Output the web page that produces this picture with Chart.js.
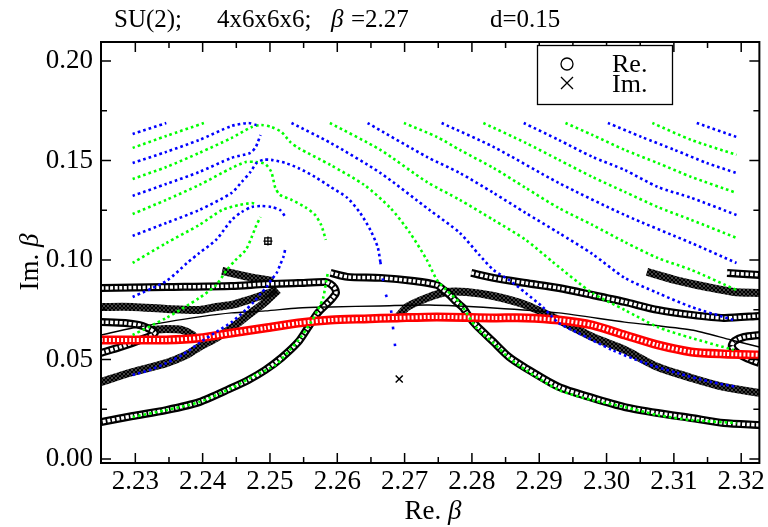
<!DOCTYPE html>
<html>
<head>
<meta charset="utf-8">
<title>SU(2) zeros</title>
<script src="https://cdn.jsdelivr.net/npm/chart.js@4.4.0/dist/chart.umd.min.js"></script>
<style>
  html, body { margin: 0; padding: 0; background: #fff; }
  #wrap { width: 768px; height: 527px; }
</style>
</head>
<body>
<div id="wrap"><canvas id="c" width="768" height="527"></canvas></div>
<script>
// axis ticks
const xTicks = [2.23, 2.24, 2.25, 2.26, 2.27, 2.28, 2.29, 2.30, 2.31, 2.32];
const xMinor = [2.235, 2.245, 2.255, 2.265, 2.275, 2.285, 2.295, 2.305, 2.315];
const yTicks = [0.00, 0.05, 0.10, 0.15, 0.20];
const yMinor = [0.025, 0.075, 0.125, 0.175];

// blue dotted curves (x = Re beta, y = Im beta)
const blue1 = [[2.2296,0.1633],[2.2346,0.1688]];
const blue2 = [[2.2296,0.1487],[2.2346,0.1543],[2.2395,0.1603],[2.2443,0.1673],[2.2468,0.1688],[2.2480,0.1678]];
const blue3 = [[2.2296,0.1322],[2.2346,0.1382],[2.2395,0.1442],[2.2443,0.1513],[2.2471,0.1538],[2.2479,0.1568],[2.2482,0.1593],[2.2486,0.1628]];
const blue4 = [[2.2296,0.1121],[2.2346,0.1186],[2.2395,0.1251],[2.2443,0.1337],[2.2458,0.1392],[2.2471,0.1442],[2.2480,0.1487],[2.2490,0.1503],[2.2502,0.1503],[2.2523,0.1487],[2.2542,0.1462],[2.2567,0.1417],[2.2590,0.1367],[2.2615,0.1312],[2.2634,0.1236],[2.2649,0.1151],[2.2660,0.1065],[2.2664,0.0990]];
const blue4tail = [[2.2664,0.0990],[2.2671,0.0839],[2.2679,0.0764],[2.2682,0.0683],[2.2686,0.0563]];
const blue5 = [[2.2296,0.0814],[2.2346,0.0894],[2.2377,0.0985],[2.2395,0.1035],[2.2420,0.1101],[2.2443,0.1201],[2.2458,0.1241],[2.2473,0.1266],[2.2487,0.1271],[2.2502,0.1266],[2.2515,0.1251],[2.2523,0.1216]];
const blue6 = [[2.2296,0.0422],[2.2321,0.0447],[2.2346,0.0482],[2.2370,0.0523],[2.2395,0.0583],[2.2420,0.0638],[2.2443,0.0688],[2.2464,0.0749],[2.2476,0.0789],[2.2487,0.0834],[2.2495,0.0864],[2.2502,0.0900],[2.2510,0.0935],[2.2515,0.0975],[2.2520,0.1015],[2.2523,0.1060]];
const blue7 = [[2.2532,0.1688],[2.2590,0.1588],[2.2664,0.1437],[2.2737,0.1251],[2.2782,0.1136],[2.2811,0.1025],[2.2832,0.0950],[2.2855,0.0900],[2.2880,0.0834],[2.2905,0.0764],[2.2929,0.0683],[2.2958,0.0633],[2.3008,0.0548],[2.3057,0.0482],[2.3105,0.0432],[2.3155,0.0387],[2.3193,0.0362]];
const blue8 = [[2.2645,0.1688],[2.2733,0.1518],[2.2782,0.1437],[2.2832,0.1337],[2.2880,0.1236],[2.2929,0.1136],[2.2979,0.1030],[2.3027,0.0910],[2.3076,0.0834],[2.3126,0.0764],[2.3189,0.0698]];
const blue9 = [[2.2755,0.1688],[2.2832,0.1568],[2.2929,0.1387],[2.3027,0.1226],[2.3126,0.1085],[2.3193,0.0985]];
const blue10 = [[2.2877,0.1688],[2.2929,0.1603],[2.2979,0.1518],[2.3027,0.1452],[2.3076,0.1367],[2.3126,0.1312],[2.3193,0.1226]];
const blue11 = [[2.3002,0.1688],[2.3052,0.1618],[2.3101,0.1553],[2.3149,0.1487],[2.3193,0.1437]];
const blue12 = [[2.3134,0.1688],[2.3193,0.1618]];

// green dotted curves
const green1 = [[2.2296,0.1563],[2.2346,0.1623],[2.2402,0.1688]];
const green2 = [[2.2296,0.1407],[2.2346,0.1467],[2.2395,0.1538],[2.2443,0.1613],[2.2473,0.1668],[2.2487,0.1678],[2.2502,0.1668],[2.2517,0.1643],[2.2530,0.1593],[2.2542,0.1563],[2.2590,0.1477],[2.2640,0.1377],[2.2679,0.1261],[2.2708,0.1136],[2.2733,0.1000],[2.2748,0.0900],[2.2762,0.0849],[2.2782,0.0784],[2.2806,0.0663],[2.2832,0.0583],[2.2855,0.0508],[2.2880,0.0447],[2.2929,0.0347],[2.2979,0.0296],[2.3027,0.0261],[2.3076,0.0221],[2.3126,0.0196],[2.3193,0.0181]];
const green3 = [[2.2296,0.1231],[2.2346,0.1302],[2.2395,0.1377],[2.2443,0.1462],[2.2464,0.1492],[2.2479,0.1492],[2.2493,0.1482],[2.2502,0.1442],[2.2508,0.1362],[2.2515,0.1327],[2.2532,0.1302],[2.2552,0.1266],[2.2567,0.1226],[2.2576,0.1176],[2.2583,0.1101]];
const green4 = [[2.2296,0.0985],[2.2346,0.1085],[2.2395,0.1176],[2.2429,0.1251],[2.2454,0.1276],[2.2473,0.1286],[2.2480,0.1281]];
const green5 = [[2.2296,0.0623],[2.2346,0.0709],[2.2395,0.0809],[2.2420,0.0874],[2.2436,0.0950],[2.2449,0.1000],[2.2464,0.1050],[2.2473,0.1116],[2.2480,0.1176],[2.2486,0.1216]];
const green6 = [[2.2296,0.0211],[2.2346,0.0246],[2.2395,0.0286],[2.2443,0.0357],[2.2479,0.0422],[2.2508,0.0472],[2.2527,0.0538],[2.2546,0.0613],[2.2561,0.0688],[2.2571,0.0749],[2.2579,0.0809],[2.2583,0.0884],[2.2586,0.0935]];
const green7 = [[2.2589,0.1688],[2.2664,0.1553],[2.2733,0.1392],[2.2782,0.1302],[2.2832,0.1201],[2.2880,0.1101],[2.2920,0.0990],[2.2979,0.0834],[2.3027,0.0749],[2.3076,0.0663],[2.3126,0.0608],[2.3189,0.0548]];
const green8 = [[2.2699,0.1688],[2.2748,0.1618],[2.2782,0.1553],[2.2832,0.1462],[2.2880,0.1362],[2.2929,0.1261],[2.2979,0.1176],[2.3027,0.1090],[2.3076,0.1010],[2.3126,0.0950],[2.3193,0.0849]];
const green9 = [[2.2817,0.1688],[2.2880,0.1588],[2.2929,0.1503],[2.2979,0.1417],[2.3027,0.1342],[2.3076,0.1266],[2.3126,0.1201],[2.3193,0.1111]];
const green10 = [[2.2939,0.1688],[2.2979,0.1628],[2.3027,0.1553],[2.3076,0.1487],[2.3126,0.1417],[2.3193,0.1337]];
const green11 = [[2.3068,0.1688],[2.3126,0.1603],[2.3193,0.1528]];

// Re. (open circles)
const re1 = [[2.2249,0.0859],[2.2346,0.0864],[2.2443,0.0869],[2.2493,0.0879],[2.2542,0.0884],[2.2582,0.0889],[2.2590,0.0879],[2.2596,0.0859],[2.2598,0.0834],[2.2593,0.0809],[2.2586,0.0784],[2.2571,0.0734],[2.2557,0.0663],[2.2542,0.0588],[2.2517,0.0508],[2.2493,0.0447],[2.2468,0.0397],[2.2443,0.0357],[2.2395,0.0286],[2.2346,0.0246],[2.2296,0.0216],[2.2249,0.0186]];
const re2 = [[2.2590,0.0935],[2.2615,0.0915],[2.2664,0.0910],[2.2714,0.0894],[2.2748,0.0874],[2.2758,0.0849],[2.2767,0.0824],[2.2777,0.0789],[2.2787,0.0759],[2.2796,0.0714],[2.2806,0.0673],[2.2832,0.0588],[2.2855,0.0513],[2.2880,0.0457],[2.2929,0.0362],[2.2979,0.0307],[2.3027,0.0261],[2.3076,0.0231],[2.3126,0.0206],[2.3174,0.0181],[2.3227,0.0171]];
const re3 = [[2.2799,0.0935],[2.2832,0.0910],[2.2880,0.0884],[2.2929,0.0859],[2.2979,0.0824],[2.3027,0.0789],[2.3076,0.0749],[2.3126,0.0724],[2.3174,0.0709],[2.3227,0.0719]];
const re4 = [[2.3179,0.0935],[2.3227,0.0925]];
const re5 = [[2.3227,0.0623],[2.3204,0.0613],[2.3190,0.0593],[2.3186,0.0568],[2.3192,0.0538],[2.3207,0.0508],[2.3227,0.0482]];
const re6 = [[2.2249,0.0688],[2.2285,0.0683],[2.2311,0.0668],[2.2329,0.0633],[2.2307,0.0598],[2.2278,0.0563],[2.2249,0.0533]];

// Im. (crosses)
const im1 = [[2.2249,0.0764],[2.2296,0.0764],[2.2346,0.0754],[2.2395,0.0749],[2.2420,0.0764],[2.2443,0.0774],[2.2468,0.0799],[2.2490,0.0824],[2.2510,0.0849]];
const im2 = [[2.2429,0.0945],[2.2468,0.0915],[2.2505,0.0894]];
const im3 = [[2.2321,0.0648],[2.2346,0.0653],[2.2370,0.0648],[2.2385,0.0623],[2.2390,0.0598]];
const im4 = [[2.2249,0.0387],[2.2296,0.0437],[2.2346,0.0482],[2.2376,0.0523],[2.2395,0.0563],[2.2420,0.0608],[2.2443,0.0658],[2.2468,0.0724],[2.2493,0.0789],[2.2512,0.0849]];
const im5 = [[2.2689,0.0709],[2.2704,0.0764],[2.2733,0.0809],[2.2762,0.0839],[2.2792,0.0839],[2.2832,0.0819],[2.2880,0.0774],[2.2929,0.0698],[2.2979,0.0613],[2.3027,0.0548],[2.3076,0.0462],[2.3126,0.0407],[2.3174,0.0362],[2.3227,0.0332]];
const im6 = [[2.3060,0.0940],[2.3101,0.0900],[2.3149,0.0864],[2.3189,0.0839],[2.3227,0.0834]];
const imSingle = [[2.2692,0.0402]];
const boxMark = [[2.2497,0.1095]];

// red open squares
const redSq = [[2.2249,0.0598],[2.2296,0.0598],[2.2346,0.0598],[2.2395,0.0608],[2.2443,0.0633],[2.2493,0.0658],[2.2542,0.0683],[2.2590,0.0698],[2.2640,0.0704],[2.2689,0.0709],[2.2748,0.0714],[2.2832,0.0709],[2.2880,0.0709],[2.2929,0.0698],[2.2979,0.0673],[2.3027,0.0623],[2.3076,0.0573],[2.3126,0.0538],[2.3174,0.0528],[2.3227,0.0523]];

// thin black line
const solid = [[2.2249,0.0623],[2.2296,0.0658],[2.2346,0.0688],[2.2395,0.0714],[2.2443,0.0734],[2.2493,0.0744],[2.2542,0.0759],[2.2590,0.0764],[2.2664,0.0769],[2.2737,0.0774],[2.2832,0.0759],[2.2929,0.0734],[2.3027,0.0688],[2.3126,0.0648],[2.3185,0.0598],[2.3227,0.0563]];

const blueCurves = [blue1, blue2, blue3, blue4, blue5, blue6, blue7, blue8, blue9, blue10, blue11, blue12];
const greenCurves = [green1, green2, green3, green4, green5, green6, green7, green8, green9, green10, green11];
const reCurves = [re1, re2, re3, re4, re5, re6];
const imCurves = [im1, im2, im3, im4, im5, im6];

const SERIF = '"Liberation Serif", "DejaVu Serif", serif';
const pts = arr => arr.map(([x, y]) => ({ x, y }));

const canvas = document.getElementById('c');

// hatch of small crosses used to stroke the Im. bands
function crossPattern() {
    const t = document.createElement('canvas');
    t.width = 4; t.height = 4;
    const g = t.getContext('2d');
    g.strokeStyle = '#000';
    g.lineWidth = 1.9;
    g.beginPath();
    g.moveTo(0, 0); g.lineTo(4, 4);
    g.moveTo(4, 0); g.lineTo(0, 4);
    g.stroke();
    return canvas.getContext('2d').createPattern(t, 'repeat');
}
const hatch = crossPattern();

const line = (arr, extra) => Object.assign({
    data: pts(arr), showLine: true, pointRadius: 0, tension: 0.25,
    borderCapStyle: 'butt', fill: false
}, extra);

const datasets = [];
blueCurves.forEach(c => datasets.push(line(c, { borderColor: '#0000ff', borderWidth: 2.6, borderDash: [2.6, 3], order: 0 })));
datasets.push(line(blue4tail, { borderColor: '#0000ff', borderWidth: 2.6, borderDash: [2.6, 14], order: 0 }));
greenCurves.forEach(c => datasets.push(line(c, { borderColor: '#00ff00', borderWidth: 2.6, borderDash: [2.6, 3], order: 0 })));

// red squares: red band with white slits
datasets.push(line(redSq, { borderColor: '#ff0000', borderWidth: 9, order: 2 }));
datasets.push(line(redSq, { borderColor: '#ffffff', borderWidth: 4, borderDash: [2, 2], order: 1 }));

// circles: black band with white holes
reCurves.forEach(c => datasets.push(line(c, { borderColor: '#000', borderWidth: 8, order: 5 })));
reCurves.forEach(c => datasets.push(line(c, { borderColor: '#fff', borderWidth: 3.5, borderDash: [3, 1.6], order: 4 })));

// crosses
imCurves.forEach(c => datasets.push(line(c, { borderColor: hatch, borderWidth: 8, order: 6 })));

datasets.push(line(solid, { borderColor: '#000', borderWidth: 1.4, order: 3 }));

datasets.push({ data: pts(imSingle), showLine: false, pointStyle: 'crossRot', pointRadius: 5, borderColor: '#000', borderWidth: 1.5, order: 0 });
datasets.push({ data: pts(boxMark), showLine: false, pointStyle: 'rect', pointRadius: 4.5, borderColor: '#000', backgroundColor: 'rgba(0,0,0,0)', borderWidth: 1.3, order: 0 });
datasets.push({ data: pts(boxMark), showLine: false, pointStyle: 'cross', pointRadius: 4.5, borderColor: '#000', borderWidth: 1.3, order: 0 });

// frame, inward ticks, title, axis titles and legend
const decor = {
    id: 'decor',
    afterDatasetsDraw(chart) {
        const { ctx, chartArea: a, scales: { x, y } } = chart;
        ctx.save();
        ctx.strokeStyle = '#000';
        ctx.lineWidth = 1.5;
        ctx.beginPath();
        const xt = (v, len) => {
            const p = x.getPixelForValue(v);
            ctx.moveTo(p, a.bottom); ctx.lineTo(p, a.bottom - len);
            ctx.moveTo(p, a.top); ctx.lineTo(p, a.top + len);
        };
        const yt = (v, len) => {
            const p = y.getPixelForValue(v);
            ctx.moveTo(a.left, p); ctx.lineTo(a.left + len, p);
            ctx.moveTo(a.right, p); ctx.lineTo(a.right - len, p);
        };
        xTicks.forEach(v => xt(v, 10));
        xMinor.forEach(v => xt(v, 6));
        yTicks.forEach(v => yt(v, 10));
        yMinor.forEach(v => yt(v, 6));
        ctx.stroke();
        ctx.lineWidth = 2;
        ctx.strokeRect(a.left, a.top, a.right - a.left, a.bottom - a.top);

        // legend box
        ctx.lineWidth = 1.3;
        ctx.fillStyle = '#fff';
        ctx.fillRect(537, 45, 135, 59);
        ctx.strokeRect(537.5, 45.5, 135, 59);
        ctx.beginPath();
        ctx.arc(567, 64, 6, 0, Math.PI * 2);
        ctx.moveTo(561, 77); ctx.lineTo(573, 89);
        ctx.moveTo(573, 77); ctx.lineTo(561, 89);
        ctx.stroke();
        ctx.fillStyle = '#000';
        ctx.font = '26px ' + SERIF;
        ctx.textBaseline = 'alphabetic';
        ctx.textAlign = 'left';
        ctx.fillText('Re.', 612, 72);
        ctx.fillText('Im.', 612, 92);
        ctx.restore();
    },
    afterDraw(chart) {
        const { ctx } = chart;
        ctx.save();
        ctx.fillStyle = '#000';
        ctx.textBaseline = 'alphabetic';
        ctx.textAlign = 'left';
        const reg = '25px ' + SERIF, ital = 'italic 25px ' + SERIF;
        // title
        ctx.font = reg;
        ctx.fillText('SU(2);', 114, 27);
        ctx.fillText('4x6x6x6;', 217, 27);
        ctx.font = ital;
        ctx.fillText('\u03b2', 331, 27);
        ctx.font = reg;
        ctx.fillText('=2.27', 351, 27);
        ctx.fillText('d=0.15', 490, 27);
        // x axis title
        const big = '27px ' + SERIF, bigI = 'italic 27px ' + SERIF;
        ctx.font = big;
        const w1 = ctx.measureText('Re. ').width;
        ctx.font = bigI;
        const w2 = ctx.measureText('\u03b2').width;
        const x0 = 433 - (w1 + w2) / 2;
        ctx.font = big;
        ctx.fillText('Re. ', x0, 519);
        ctx.font = bigI;
        ctx.fillText('\u03b2', x0 + w1, 519);
        // y axis title
        ctx.translate(38, 262);
        ctx.rotate(-Math.PI / 2);
        ctx.font = big;
        const v1 = ctx.measureText('Im. ').width;
        ctx.font = bigI;
        const v2 = ctx.measureText('\u03b2').width;
        ctx.font = big;
        ctx.fillText('Im. ', -(v1 + v2) / 2, 0);
        ctx.font = bigI;
        ctx.fillText('\u03b2', -(v1 + v2) / 2 + v1, 0);
        ctx.restore();
    }
};

new Chart(canvas, {
    type: 'scatter',
    data: { datasets },
    options: {
        responsive: false,
        animation: false,
        devicePixelRatio: 1,
        layout: { padding: { top: 42, right: 2, left: 0, bottom: 0 } },
        plugins: { legend: { display: false }, tooltip: { enabled: false } },
        scales: {
            x: {
                type: 'linear', min: 2.2249, max: 2.3227,
                grid: { display: false, tickLength: 0 }, border: { display: false },
                afterBuildTicks: s => { s.ticks = xTicks.map(v => ({ value: v })); },
                afterFit: s => { s.height = 64; },
                ticks: {
                    color: '#000', padding: 3, maxRotation: 0, autoSkip: false,
                    font: { family: SERIF, size: 27 },
                    callback: v => Number(v).toFixed(2)
                }
            },
            y: {
                type: 'linear', min: -0.002, max: 0.2095,
                grid: { display: false, tickLength: 0 }, border: { display: false },
                afterBuildTicks: s => { s.ticks = yTicks.map(v => ({ value: v })); },
                afterFit: s => { s.width = 101; },
                ticks: {
                    color: '#000', padding: 8, autoSkip: false,
                    font: { family: SERIF, size: 27 },
                    callback: v => Number(v).toFixed(2)
                }
            }
        }
    },
    plugins: [decor]
});
</script>
</body>
</html>
